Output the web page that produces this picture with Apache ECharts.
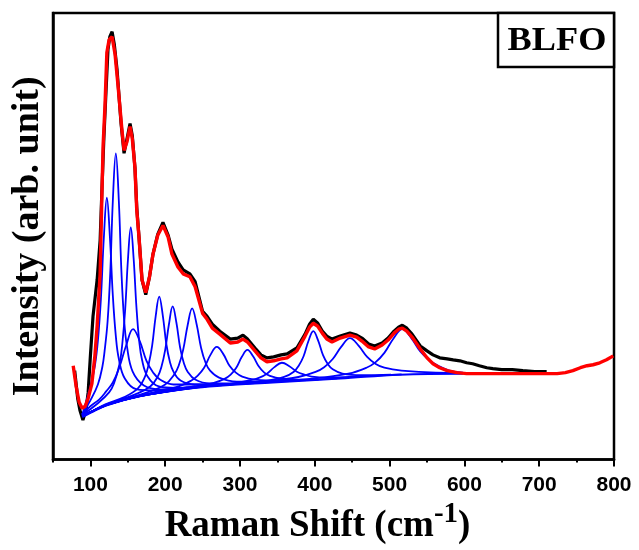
<!DOCTYPE html>
<html>
<head>
<meta charset="utf-8">
<script src="https://cdn.jsdelivr.net/npm/echarts@6/dist/echarts.min.js"></script>
<style>html,body{margin:0;padding:0;background:#fff}#c{width:639px;height:550px}</style>
</head>
<body>
<div id="c"></div>
<script>
// ---- data (Raman shift cm^-1, intensity arb. unit) ----
const xTickLabels = [100, 200, 300, 400, 500, 600, 700, 800];
const sampleLabel = 'BLFO';

const experimental = [[79,90],[83,62],[86,50],[90,40],[94,50],[97,68],[100,105],[103.5,145],[109,182],[113,222],[115.5,275],[118,325],[121,375],[123.5,415],[126,428],[129,433],[132,420],[135.6,395],[141,340],[145,310],[149,325],[153,340],[156,328],[159.6,295],[162,255],[165,225],[169,182],[174,167],[179,185],[183.7,208],[190,228],[197,240],[204,227],[209,213],[217,200],[224,192],[233,188],[240,180],[250,150],[256,145],[263,137],[273,130],[287,122],[297,123],[304,126],[310,122],[320,113],[328,106],[336,103],[345,104],[355,106],[363,107],[376,113],[387,127],[393,137],[398,142],[404,138],[410,130],[416,125],[423,122],[434,125],[447,128],[456,126],[463,123],[472,117],[480,115],[490,118],[498,123],[506,130],[512,134],[517,136],[523,133],[530,127],[541,115],[550,110],[558,106],[567,103],[577,102],[585,101],[594,100],[603,98],[611,97],[620,95],[630,93],[638,92],[650,91],[664,91],[678,90],[694,89],[710,89]];

const cumulativeFit = [[77,95],[81,74],[85,58],[89,52],[93,54],[97,62],[102,77],[106,105],[109,135],[113,188],[115.5,272],[117,318],[119.5,358],[122,412],[125,425],[129,428],[133,410],[137,378],[142,335],[145,313],[149,322],[153,337],[156,325],[159.6,295],[162,252],[165,225],[169,182],[174,169],[179,185],[183.7,208],[190,227],[197,237],[204,225],[209,208],[217,195],[224,188],[233,185],[240,175],[250,148],[256,142],[263,133],[273,127],[287,118],[297,119],[304,122],[310,119],[320,110],[328,103],[336,99],[345,100],[355,102],[363,103],[376,110],[387,125],[393,134],[398,138],[404,135],[410,128],[416,122],[423,119],[434,123],[447,126],[456,124],[463,120],[472,114],[480,112],[490,116],[498,121],[506,128],[512,132],[517,133],[523,130],[530,124],[541,112],[550,103],[558,97],[567,93],[577,90],[590,88],[603,87],[621,87],[650,87],[674,87],[700,87],[724,87],[735,88],[745,90],[755,93],[764,95],[772,96],[781,98],[790,101],[799,105]];

const baseline = [[89,43],[100,47.4],[122,55],[166,64],[233,72],[277,75],[344,78],[434,82],[514,86],[598,87]];

const peak1 = [[89,45],[100,74],[106,95],[110,120],[114,162],[118,225],[122,265],[126,226],[130,166],[134,125],[138,102],[146,82],[162,71],[186,70],[230,73]];
const peak2 = [[89,46],[100,60],[110,76],[116,94],[119,110],[123,140],[126.5,188],[130,262],[134,310],[138,262],[141.5,190],[145,142],[149,114],[156.5,89],[171.5,75],[194,71],[240,74]];
const peak3 = [[89,45],[110,57],[125,68],[131.5,77],[139,97],[142.75,118],[146.5,152],[150.25,203],[154,235],[157.75,204],[161.5,155],[165.25,120],[169,101],[176.5,84],[191.5,74],[214,72.5],[260,75]];
const peak4 = [[89,46],[100,54],[112,61],[121,69],[130,78],[139,94],[148,116],[157,132],[166,120],[175,100],[184,88],[193,81],[211,76],[247,76],[301,77]];
const peak5 = [[89,45],[100,48],[120,56],[144.5,63],[163.5,72],[173,84],[177.75,96],[182.5,115],[187.25,145],[192,165],[196.75,146],[201.5,117],[206.25,99],[211,89],[220.5,80],[239.5,76],[268,76],[320,77.5]];
const peak6 = [[89,44],[100,48],[130,58],[160,66],[180,74],[190,84],[195,94],[200,111],[205,137],[210,155],[215,138.5],[220,113],[225,97.5],[230,89],[240,81],[260,77],[290,77],[340,78.4]];
const peak7 = [[89,44],[100,48],[122,56],[140,60],[176,68],[200,76],[212,86],[218,95],[224,111],[230,136],[236,153],[242,137],[248,113],[254,98],[260,90],[272,83],[296,79],[332,79],[380,80]];
const peak8 = [[89,44],[100,48],[122,55.5],[133,58],[166,64.8],[184,68],[218,74],[235,80],[243.5,85],[252,93],[260.5,106],[269,114],[277.5,107],[286,95],[294.5,88],[303,84],[320,81],[354,80],[405,81]];
const peak9 = [[89,44],[100,48],[122,55.5],[166,64.5],[190,67.5],[235,73.5],[265,77.7],[280,82],[287.5,86],[295,93],[302.5,104],[310,111],[317.5,104.5],[325,94.5],[332.5,88],[340,84.7],[355,82],[385,81],[430,82.3]];
const peak10 = [[89,44],[100,48],[122,55.3],[166,64.3],[196,68],[256,74.4],[296,77.7],[316,80.7],[326,83],[336,87],[346,93.6],[356,98],[366,94.5],[376,89],[386,86],[396,84],[416,83],[456,84],[516,86.3]];
const peak11 = [[89,44],[100,48],[122,55.3],[166,64.2],[233,72.4],[294,76.5],[333,79.4],[359,83.7],[372,89],[378.5,95],[385,104.6],[391.5,120],[398,130],[404.5,120.4],[411,105.7],[417.5,96.5],[424,91.4],[437,87],[463,85.4],[502,86]];
const peak12 = [[89,44],[100,48],[122,55.3],[166,64.2],[233,72.4],[263,75],[332,79],[378,83.6],[401,88.7],[412.5,93.5],[424,101.8],[435.5,114.3],[447,123],[458.5,115.4],[470,104],[481.5,96.8],[493,93],[516,90],[562,88],[598,87.8]];
const peak13 = [[89,44],[100,48],[122,55.3],[166,64.2],[233,72.4],[277,75.6],[325,78],[397,82],[445,87],[469,93],[481,98.4],[493,108],[505,122.3],[517,132],[529,123],[541,109.4],[553,100.7],[565,95],[580,90],[598,88]];
const peaks = [peak1, peak2, peak3, peak4, peak5, peak6, peak7, peak8, peak9, peak10, peak11, peak12, peak13];

// ---- chart ----
const serif = "'Liberation Serif','Times New Roman',serif";
const sans = "'Liberation Sans',Arial,sans-serif";
const chart = echarts.init(document.getElementById('c'), null, {renderer: 'canvas'});

const series = [];
series.push({type: 'line', name: 'Experimental', data: experimental, showSymbol: false,
  lineStyle: {color: '#000', width: 3.2}, z: 2});
peaks.forEach((p, i) => series.push({type: 'line', name: 'Peak ' + (i + 1), data: p, showSymbol: false,
  smooth: 0.4, lineStyle: {color: '#0000ff', width: 1.8}, z: 3}));
series.push({type: 'line', name: 'Baseline', data: baseline, showSymbol: false, smooth: 0.4,
  lineStyle: {color: '#0000ff', width: 2}, z: 3});
series.push({type: 'line', name: 'Fit', data: cumulativeFit, showSymbol: false,
  lineStyle: {color: '#ff0000', width: 3.4}, z: 4});

chart.setOption({
  animation: false,
  backgroundColor: '#fff',
  grid: {left: 53, right: 25, top: 13, bottom: 85, show: true, borderColor: '#000', borderWidth: 2.5, backgroundColor: 'transparent'},
  xAxis: [{
    type: 'value', min: 50, max: 800, interval: 50, position: 'bottom',
    axisLine: {lineStyle: {color: '#000', width: 2.5}},
    axisTick: {length: 3, lineStyle: {color: '#000', width: 2}},
    axisLabel: {margin: 15, color: '#000', fontFamily: sans, fontWeight: 'bold', fontSize: 21,
      formatter: v => (xTickLabels.indexOf(v) >= 0 ? String(v) : '')},
    splitLine: {show: false},
    name: '{a|Raman Shift (cm}{s|-1}{a|)}', nameLocation: 'middle', nameGap: 36,
    nameTextStyle: {padding: [0, 32, 0, 0], rich: {
      a: {fontFamily: serif, fontWeight: 'bold', fontSize: 37, lineHeight: 52, color: '#000'},
      s: {fontFamily: serif, fontWeight: 'bold', fontSize: 29, lineHeight: 30, color: '#000', verticalAlign: 'top'}
    }}
  }, {
    type: 'value', min: 50, max: 800, position: 'bottom',
    axisLine: {show: false},
    axisTick: {show: true, customValues: xTickLabels, length: 7, lineStyle: {color: '#000', width: 2}},
    axisLabel: {show: false}, splitLine: {show: false}
  }],
  yAxis: {
    type: 'value', min: 0, max: 452,
    axisLine: {show: true, lineStyle: {color: '#000', width: 2.5}},
    axisTick: {show: false}, axisLabel: {show: false}, splitLine: {show: false},
    name: 'Intensity (arb. unit)', nameLocation: 'middle', nameGap: 6,
    nameTextStyle: {fontFamily: serif, fontWeight: 'bold', fontSize: 38, color: '#000'}
  },
  series: series,
  graphic: [{
    type: 'group', z: 100, children: [
      {type: 'rect', shape: {x: 498, y: 13, width: 116, height: 54}, style: {fill: '#fff', stroke: '#000', lineWidth: 2.5}},
      {type: 'text', x: 557, y: 41, scaleX: 1.1, style: {text: sampleLabel, x: 0, y: 0, align: 'center', verticalAlign: 'middle',
        font: "bold 33px 'Liberation Serif','Times New Roman',serif", fill: '#000'}}
    ]
  }]
});
</script>
</body>
</html>
